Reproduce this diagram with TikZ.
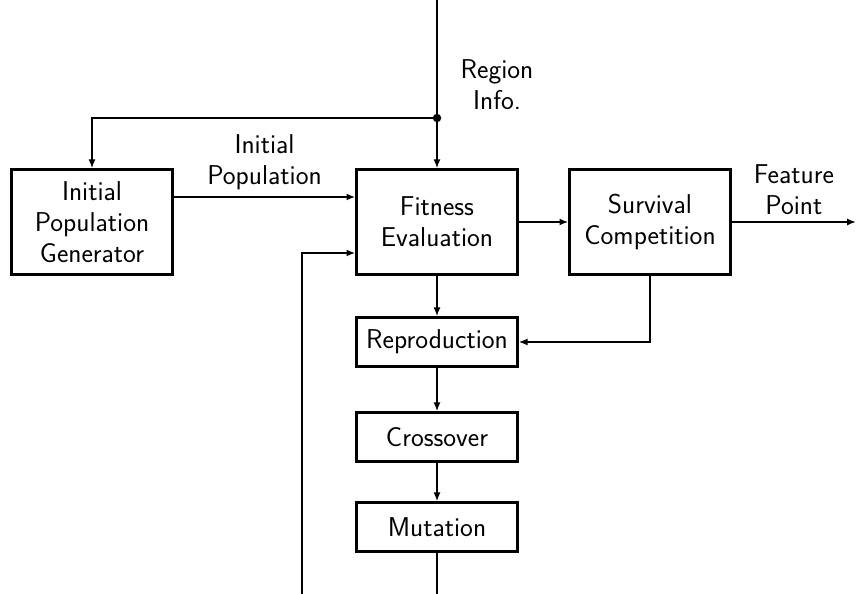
\documentclass[tikz,border=0pt]{standalone}
\usetikzlibrary{arrows.meta}
\usetikzlibrary{calc}
\renewcommand{\familydefault}{\sfdefault}

\begin{document}
\begin{tikzpicture}[x=0.02cm, y=-0.02cm, font=\fontsize{15.5}{17.6}\selectfont,
    block/.style={draw, line width=1.4pt, minimum width=3.22cm, align=center, inner sep=2pt},
    bigblock/.style={block, minimum height=2.1cm},
    smallblock/.style={block, minimum height=0.98cm},
    flow/.style={-{Latex[length=5pt,width=4pt]}, line width=1.1pt},
    mainflow/.style={flow, line width=1.7pt}]
    \useasboundingbox (0,0) rectangle (856,594);

    \node[bigblock] (generator) at (92, 222) {Initial\\Population\\Generator};
    \node[bigblock] (fitness) at (437, 222) {Fitness\\Evaluation};
    \node[bigblock] (survival) at (650, 222) {Survival\\Competition};
    \node[smallblock] (reproduction) at (437, 342) {Reproduction};
    \node[smallblock] (crossover) at (437, 437) {Crossover};
    \node[smallblock] (mutation) at (437, 527) {Mutation};

    \coordinate (regionin) at (437, 0);
    \coordinate (split) at (437, 118);
    \coordinate (featureout) at (856, 222);
    \coordinate (loopin) at (302, 594);
    \coordinate (loopout) at (437, 594);

    \node[align=center] (regionlabel) at (497, 85) {Region\\Info.};

    \draw[flow] (regionin) -- (fitness.north);
    \draw[mainflow] (split) -| (generator.north);
    \fill (split) circle (2.4pt);
    \draw[flow] (generator.east |- 0,197) -- node [midway, above, align=center] {Initial\\Population} (fitness.west |- 0,197);
    \draw[flow] (loopin) |- (fitness.west |- 0,253);
    \draw[mainflow] (fitness.east) -- (survival.west);
    \draw[mainflow] (survival.east) -- node [midway, above, align=center] {Feature\\Point} (featureout);
    \draw[mainflow] (survival.south) |- (reproduction.east);
    \draw[flow] (fitness.south) -- (reproduction.north);
    \draw[flow] (reproduction.south) -- (crossover.north);
    \draw[flow] (crossover.south) -- (mutation.north);
    \draw[line width=1.1pt] (mutation.south) -- (loopout);

\end{tikzpicture}
\end{document}
